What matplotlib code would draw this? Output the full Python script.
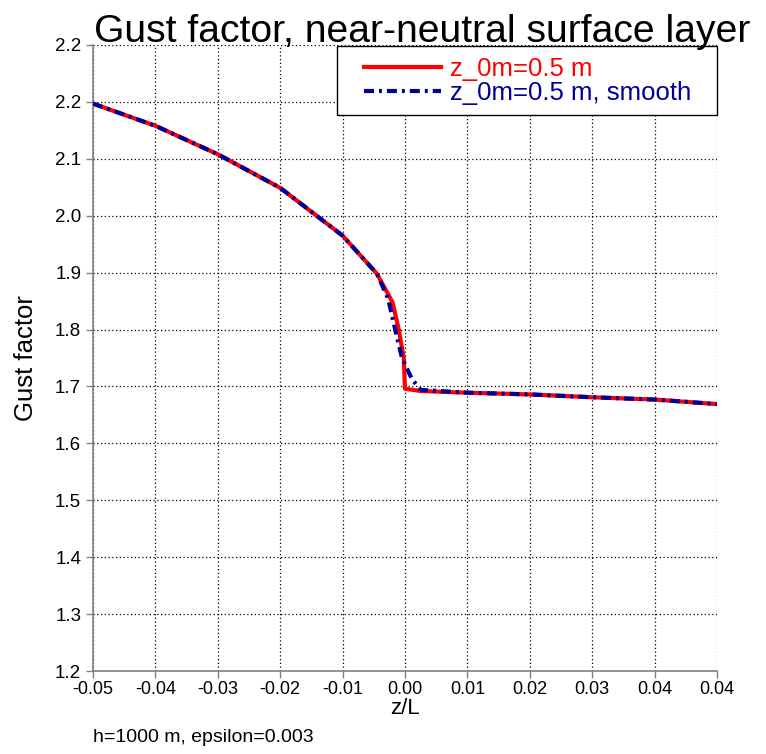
import matplotlib
matplotlib.use("Agg")
import matplotlib.pyplot as plt
from matplotlib.patches import Rectangle

# data
z_over_L = [-0.05, -0.04, -0.03, -0.02, -0.01, -0.0045, -0.002, -0.001, -0.0002, 0.0,
            0.0025, 0.01, 0.02, 0.03, 0.04, 0.05]
gust = [2.197, 2.158, 2.108, 2.049, 1.965, 1.898, 1.848, 1.800, 1.750, 1.696,
        1.692, 1.689, 1.686, 1.681, 1.677, 1.669]

z_over_L_smooth = [-0.05, -0.04, -0.03, -0.02, -0.01, -0.0045, -0.0027, -0.0013, -0.0005, 0.0011,
                   0.0025, 0.01, 0.02, 0.03, 0.04, 0.05]
gust_smooth = [2.197, 2.158, 2.108, 2.049, 1.965, 1.898, 1.854, 1.787, 1.751, 1.713,
               1.694, 1.689, 1.686, 1.681, 1.677, 1.669]

xticks = [-0.05, -0.04, -0.03, -0.02, -0.01, 0.0, 0.01, 0.02, 0.03, 0.04, 0.05]
xticklabels = ["-0.05", "-0.04", "-0.03", "-0.02", "-0.01", "0.00", "0.01", "0.02", "0.03", "0.04", "0.04"]
yticks = [1.2, 1.3, 1.4, 1.5, 1.6, 1.7, 1.8, 1.9, 2.0, 2.1, 2.2, 2.3]
yticklabels = ["1.2", "1.3", "1.4", "1.5", "1.6", "1.7", "1.8", "1.9", "2.0", "2.1", "2.2", "2.2"]

plt.rcParams['font.family'] = ['Liberation Sans', 'DejaVu Sans']

W, H = 766, 754
fig = plt.figure(figsize=(W / 100, H / 100), dpi=100)
ax = fig.add_axes([93 / W, 1 - 671 / H, 624 / W, 626 / H])

ax.plot(z_over_L, gust, color='#ff0000', lw=3, label='z_0m=0.5 m', zorder=3)
ax.plot(z_over_L_smooth, gust_smooth, color='#000099', lw=3, dashes=(2.4, 1.2, 0.7, 1.2),
        label='z_0m=0.5 m, smooth', zorder=4)

ax.set_xlim(-0.05, 0.05)
ax.set_ylim(1.2, 2.3)
ax.set_xticks(xticks)
ax.set_xticklabels(xticklabels, fontsize=13)
ax.set_yticks(yticks)
ax.set_yticklabels(yticklabels, fontsize=13.5)
ax.tick_params(direction='out', length=5, color='#808080', width=1)
ax.tick_params(axis='x', pad=2)
ax.grid(True, color='black', linestyle=(0, (1, 2)), linewidth=0.9)

for s in ['top', 'right']:
    ax.spines[s].set_visible(False)
for s in ['left', 'bottom']:
    ax.spines[s].set_color('#808080')
    ax.spines[s].set_linewidth(1.2)

ax.set_xlabel('z/L', fontsize=16, labelpad=0)
ax.set_ylabel('Gust factor', fontsize=18.5, labelpad=12)

# legend box drawn separately (wide left margin in the original)
box = Rectangle((337 / W, 1 - 115 / H), 380 / W, 69 / H, transform=fig.transFigure,
                facecolor='white', edgecolor='black', linewidth=1, zorder=5, clip_on=False)
ax.add_patch(box)
leg = ax.legend(loc='upper left', bbox_to_anchor=(364 / W, 1 - 57 / H),
                bbox_transform=fig.transFigure, fontsize=18.5, frameon=False,
                borderaxespad=0, borderpad=0, handlelength=3.0, labelspacing=0.0,
                handletextpad=0.35)
leg.set_zorder(6)
for txt, c in zip(leg.get_texts(), ['#ff0000', '#000099']):
    txt.set_color(c)

fig.text(94 / W, 1 - 42 / H, 'Gust factor, near-neutral surface layer',
         fontsize=28.2, ha='left', va='baseline')
fig.text(93 / W, 1 - 738 / H, 'h=1000 m, epsilon=0.003',
         fontsize=14, ha='left', va='center')

fig.savefig('out.png', dpi=100)
